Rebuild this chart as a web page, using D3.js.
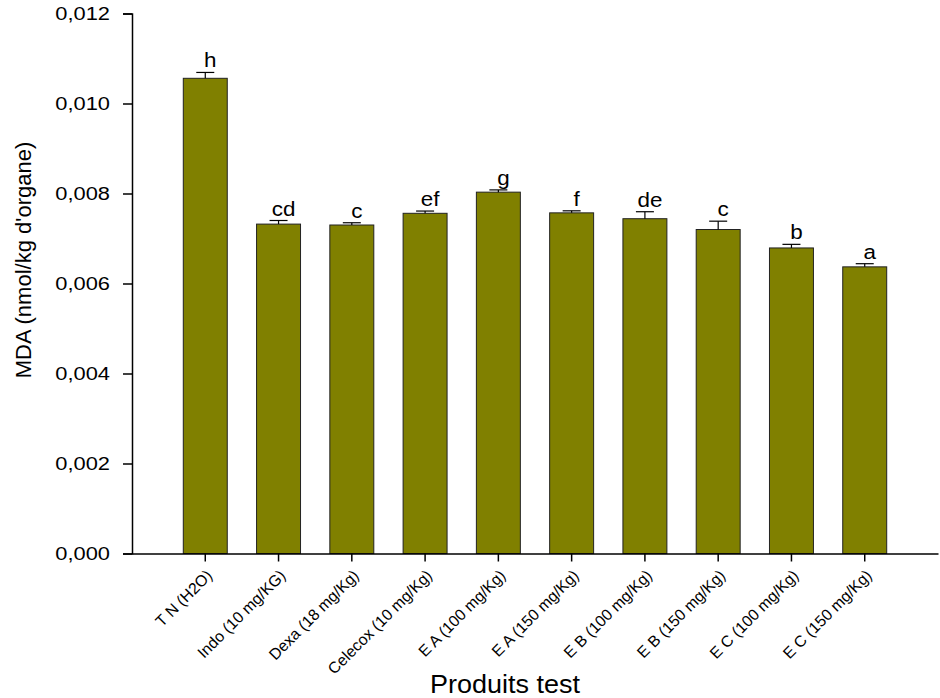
<!DOCTYPE html>
<html>
<head>
<meta charset="utf-8">
<script src="https://cdn.jsdelivr.net/npm/d3@7"></script>
<style>
  body { margin: 0; background: #fff; }
  text { font-family: "Liberation Sans", Arial, sans-serif; fill: #000; }
</style>
</head>
<body>
<svg id="chart" width="940" height="698"></svg>
<script>
const categories = ["T N (H2O)", "Indo (10 mg/KG)", "Dexa (18 mg/Kg)", "Celecox (10 mg/Kg)",
  "E A (100 mg/Kg)", "E A (150 mg/Kg)", "E B (100 mg/Kg)", "E B (150 mg/Kg)",
  "E C (100 mg/Kg)", "E C (150 mg/Kg)"];
const means = [0.01056, 0.00732, 0.00730, 0.00756, 0.00803, 0.00757, 0.00744, 0.00720, 0.00679, 0.00637];
const errors = [0.00013, 0.00008, 0.00005, 0.00005, 0.00005, 0.000045, 0.000155, 0.000185, 0.00008, 0.00007];
const letters = ["h", "cd", "c", "ef", "g", "f", "de", "c", "b", "a"];
const yTicks = [0, 0.002, 0.004, 0.006, 0.008, 0.010, 0.012];

const svg = d3.select("#chart");
const mLeft = 132, mRight = 938, mTop = 13.5, mBottom = 553.5;
const stretch = 1.15;

const x = d3.scaleBand().domain(categories).range([mLeft, mRight])
  .paddingInner(0.4).paddingOuter(0.7);
const y = d3.scaleLinear().domain([0, 0.012]).range([mBottom, mTop]);

const fmt = d => d3.format(".3f")(d).replace(".", ",");

// bars
svg.append("g").selectAll("rect").data(categories).join("rect")
  .attr("x", d => x(d))
  .attr("y", (d, i) => y(means[i]))
  .attr("width", x.bandwidth())
  .attr("height", (d, i) => y(0) - y(means[i]))
  .attr("fill", "#808000")
  .attr("stroke", "#222")
  .attr("stroke-width", 1);

// error bars (upper only)
const eb = svg.append("g").attr("stroke", "#000").attr("stroke-width", 1.2);
categories.forEach((c, i) => {
  const cx = x(c) + x.bandwidth() / 2;
  eb.append("line").attr("x1", cx).attr("x2", cx)
    .attr("y1", y(means[i])).attr("y2", y(means[i] + errors[i]));
  eb.append("line").attr("x1", cx - 9).attr("x2", cx + 9)
    .attr("y1", y(means[i] + errors[i])).attr("y2", y(means[i] + errors[i]));
});

// letters
svg.append("g").selectAll("text").data(categories).join("text")
  .attr("transform", (d, i) =>
    `translate(${x(d) + x.bandwidth() / 2 + 5},${y(means[i] + errors[i]) - 5}) scale(${stretch},1)`)
  .attr("text-anchor", "middle")
  .style("font-size", "19.5px")
  .text((d, i) => letters[i]);

// y axis
const yAxis = svg.append("g").attr("transform", `translate(${mLeft},0)`)
  .call(d3.axisLeft(y).tickValues(yTicks).tickFormat(fmt).tickSize(9).tickPadding(13));
yAxis.attr("font-family", null).attr("font-size", null);
yAxis.select(".domain").attr("stroke", "#000").attr("stroke-width", 1.5);
yAxis.selectAll(".tick line").attr("stroke", "#000").attr("stroke-width", 1.5);
yAxis.selectAll(".tick text")
  .style("font-size", "19px")
  .attr("x", null)
  .attr("transform", `translate(-22,0) scale(${stretch},1)`);

// x axis
const xAxis = svg.append("g").attr("transform", `translate(0,${mBottom})`)
  .call(d3.axisBottom(x).tickSize(8).tickSizeOuter(0));
xAxis.attr("font-family", null).attr("font-size", null);
xAxis.select(".domain").attr("stroke", "#000").attr("stroke-width", 1.5);
xAxis.selectAll(".tick line").attr("stroke", "#000").attr("stroke-width", 1.5);
xAxis.selectAll(".tick text")
  .style("font-size", "15.8px")
  .attr("text-anchor", "end")
  .attr("dy", null)
  .attr("y", null)
  .attr("transform", "translate(8,23) rotate(-45)");

// axis titles
svg.append("text")
  .attr("transform", "translate(31,260) rotate(-90)")
  .attr("text-anchor", "middle")
  .style("font-size", "22px")
  .text("MDA (nmol/kg d'organe)");

svg.append("text")
  .attr("transform", `translate(505,693) scale(1.08,1)`)
  .attr("text-anchor", "middle")
  .style("font-size", "25px")
  .text("Produits test");
</script>
</body>
</html>
